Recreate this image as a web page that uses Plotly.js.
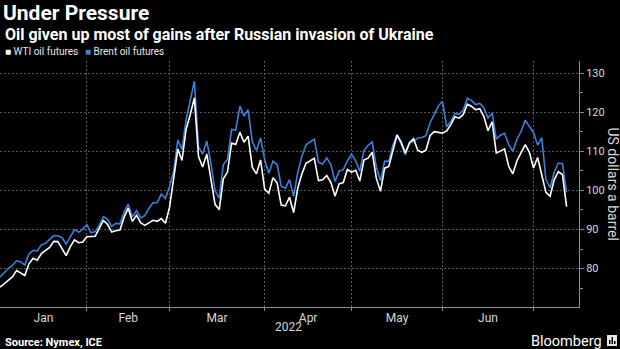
<!DOCTYPE html>
<html><head><meta charset="utf-8">
<script src="https://cdn.plot.ly/plotly-3.0.1.min.js"></script>
<style>html,body{margin:0;padding:0;background:#000;}#chart{width:620px;height:349px;}</style>
</head><body><div id="chart"></div>
<script>
// ---- data (daily settlements, front-month) ----
const wtiDates = ['2021-12-31',
'2022-01-03','2022-01-04','2022-01-05','2022-01-06','2022-01-07','2022-01-10','2022-01-11','2022-01-12','2022-01-13','2022-01-14','2022-01-18','2022-01-19','2022-01-20','2022-01-21','2022-01-24','2022-01-25','2022-01-26','2022-01-27','2022-01-28','2022-01-31',
'2022-02-01','2022-02-02','2022-02-03','2022-02-04','2022-02-07','2022-02-08','2022-02-09','2022-02-10','2022-02-11','2022-02-14','2022-02-15','2022-02-16','2022-02-17','2022-02-18','2022-02-22','2022-02-23','2022-02-24','2022-02-25','2022-02-28',
'2022-03-01','2022-03-02','2022-03-03','2022-03-04','2022-03-07','2022-03-08','2022-03-09','2022-03-10','2022-03-11','2022-03-14','2022-03-15','2022-03-16','2022-03-17','2022-03-18','2022-03-21','2022-03-22','2022-03-23','2022-03-24','2022-03-25','2022-03-28','2022-03-29','2022-03-30','2022-03-31',
'2022-04-01','2022-04-04','2022-04-05','2022-04-06','2022-04-07','2022-04-08','2022-04-11','2022-04-12','2022-04-13','2022-04-14','2022-04-18','2022-04-19','2022-04-20','2022-04-21','2022-04-22','2022-04-25','2022-04-26','2022-04-27','2022-04-28','2022-04-29',
'2022-05-02','2022-05-03','2022-05-04','2022-05-05','2022-05-06','2022-05-09','2022-05-10','2022-05-11','2022-05-12','2022-05-13','2022-05-16','2022-05-17','2022-05-18','2022-05-19','2022-05-20','2022-05-23','2022-05-24','2022-05-25','2022-05-26','2022-05-27','2022-05-31',
'2022-06-01','2022-06-02','2022-06-03','2022-06-06','2022-06-07','2022-06-08','2022-06-09','2022-06-10','2022-06-13','2022-06-14','2022-06-15','2022-06-16','2022-06-17','2022-06-21','2022-06-22','2022-06-23','2022-06-24','2022-06-27','2022-06-28','2022-06-29','2022-06-30',
'2022-07-01','2022-07-05','2022-07-06','2022-07-07','2022-07-08','2022-07-11','2022-07-12'];
const wtiValues = [75.21,
76.08,76.99,77.85,79.46,78.90,78.23,81.22,82.64,82.12,83.82,85.43,86.96,86.90,85.14,83.31,85.60,87.35,86.61,86.82,88.15,
88.20,88.26,90.27,92.31,91.32,89.36,89.66,89.88,93.10,95.46,92.07,93.66,91.76,91.07,92.35,92.10,92.81,91.59,95.72,
103.41,110.60,107.67,115.68,119.40,123.70,108.70,106.02,109.33,103.01,96.44,95.04,102.98,104.70,112.12,111.76,114.93,112.34,113.90,105.96,104.24,107.82,100.28,
99.27,103.28,101.96,96.23,96.03,98.26,94.29,100.60,104.25,106.95,108.21,102.56,102.75,103.79,102.07,98.54,101.70,102.02,105.36,104.69,
105.17,102.41,107.81,108.26,109.77,103.09,99.76,105.71,106.13,110.49,114.20,112.40,109.59,112.21,113.23,110.29,109.77,110.33,114.09,115.07,114.67,
115.26,116.87,118.87,118.50,119.41,122.11,121.51,120.67,120.93,118.93,115.31,117.59,109.56,110.65,106.19,104.27,107.62,109.57,111.76,109.78,105.76,
108.43,99.50,98.53,102.73,104.79,104.09,95.84];

const brentDates = ['2021-12-31',
'2022-01-03','2022-01-04','2022-01-05','2022-01-06','2022-01-07','2022-01-10','2022-01-11','2022-01-12','2022-01-13','2022-01-14','2022-01-17','2022-01-18','2022-01-19','2022-01-20','2022-01-21','2022-01-24','2022-01-25','2022-01-26','2022-01-27','2022-01-28','2022-01-31',
'2022-02-01','2022-02-02','2022-02-03','2022-02-04','2022-02-07','2022-02-08','2022-02-09','2022-02-10','2022-02-11','2022-02-14','2022-02-15','2022-02-16','2022-02-17','2022-02-18','2022-02-21','2022-02-22','2022-02-23','2022-02-24','2022-02-25','2022-02-28',
'2022-03-01','2022-03-02','2022-03-03','2022-03-04','2022-03-07','2022-03-08','2022-03-09','2022-03-10','2022-03-11','2022-03-14','2022-03-15','2022-03-16','2022-03-17','2022-03-18','2022-03-21','2022-03-22','2022-03-23','2022-03-24','2022-03-25','2022-03-28','2022-03-29','2022-03-30','2022-03-31',
'2022-04-01','2022-04-04','2022-04-05','2022-04-06','2022-04-07','2022-04-08','2022-04-11','2022-04-12','2022-04-13','2022-04-14','2022-04-18','2022-04-19','2022-04-20','2022-04-21','2022-04-22','2022-04-25','2022-04-26','2022-04-27','2022-04-28','2022-04-29',
'2022-05-02','2022-05-03','2022-05-04','2022-05-05','2022-05-06','2022-05-09','2022-05-10','2022-05-11','2022-05-12','2022-05-13','2022-05-16','2022-05-17','2022-05-18','2022-05-19','2022-05-20','2022-05-23','2022-05-24','2022-05-25','2022-05-26','2022-05-27','2022-05-30','2022-05-31',
'2022-06-01','2022-06-02','2022-06-03','2022-06-06','2022-06-07','2022-06-08','2022-06-09','2022-06-10','2022-06-13','2022-06-14','2022-06-15','2022-06-16','2022-06-17','2022-06-20','2022-06-21','2022-06-22','2022-06-23','2022-06-24','2022-06-27','2022-06-28','2022-06-29','2022-06-30',
'2022-07-01','2022-07-04','2022-07-05','2022-07-06','2022-07-07','2022-07-08','2022-07-11','2022-07-12'];
const brentValues = [77.78,
78.98,80.00,80.80,81.99,81.75,80.87,83.72,84.67,84.47,86.06,86.48,87.51,88.44,88.38,87.89,86.27,88.20,89.96,89.34,90.03,91.21,
89.16,89.47,91.11,93.27,92.69,90.78,91.55,91.41,94.44,96.48,93.28,94.81,92.97,93.54,95.39,96.84,96.84,99.08,97.93,100.99,
104.97,112.93,110.46,118.11,123.21,127.98,111.14,109.33,112.67,106.90,99.91,98.02,106.64,107.93,115.62,115.48,121.60,119.03,120.65,112.48,110.23,113.45,107.91,
104.39,107.53,106.64,101.07,100.58,102.78,98.48,104.64,108.78,111.70,113.16,107.25,106.80,108.33,106.65,102.32,104.99,105.32,107.59,109.34,
107.58,104.97,110.14,111.55,112.39,105.94,102.46,107.51,107.45,111.55,114.24,111.93,109.11,112.04,112.55,113.42,113.56,114.03,117.40,119.43,121.67,122.84,
116.29,117.61,119.72,119.51,120.57,123.58,123.07,122.01,122.27,121.17,118.51,119.81,113.12,114.13,114.65,111.74,110.05,113.12,115.09,117.98,116.26,114.81,
111.63,113.50,102.77,100.69,104.65,107.02,106.85,99.49];

const seriesNames = ['WTI oil futures', 'Brent oil futures'];
const monthLabels = ['Jan','Feb','Mar','Apr','May','Jun'];
const monthLabelDates = ['2022-01-17 12:00','2022-02-15','2022-03-16 12:00','2022-04-15 12:00','2022-05-17','2022-06-16'];
const monthBoundaries = ['2022-02-01','2022-03-01','2022-04-01','2022-05-02','2022-06-01','2022-07-01'];
const yTickValues = [80,90,100,110,120,130];

// ---- styling ----
const WHITE = '#ffffff', BLUE = '#3c80db', AXIS = '#8c8c8c', GRID = '#5a5a5a', TXT = '#d6d6d6';
const F = 'Roboto, "Open Sans", sans-serif';
const W = 620, H = 349, M = {l:0, r:41, t:61, b:42};
const PW = W - M.l - M.r, PH = H - M.t - M.b;
const px = x => (x - M.l) / PW;          // pixel -> paper x
const py = y => (H - M.b - y) / PH;      // pixel -> paper y
const eod = d => d + ' 23:59:59';         // settlement plotted at end of trading day

const traces = [
  {x: brentDates.map(eod), y: brentValues, name: seriesNames[1], mode:'lines',
   line:{color: BLUE, width:1.6}, hoverinfo:'skip'},
  {x: wtiDates.map(eod), y: wtiValues, name: seriesNames[0], mode:'lines',
   line:{color: WHITE, width:1.6}, hoverinfo:'skip'}
];

const layout = {
  width: W, height: H,
  paper_bgcolor:'#000', plot_bgcolor:'#000',
  margin:{l:M.l, r:M.r, t:M.t, b:M.b, pad:0},
  font:{family:F, color:TXT},
  showlegend:false,
  title:{text:'<b>Under Pressure</b>', x:3/W, xref:'container', xanchor:'left',
         y:1-13/H, yref:'container', yanchor:'middle',
         font:{size:21, family:F, color:'#fff'}},
  xaxis:{type:'date', range:['2021-12-31 23:59','2022-07-18'],
         rangebreaks:[{bounds:['sat','mon']}],
         tickmode:'array', tickvals:monthLabelDates, ticktext:monthLabels,
         ticks:'', showgrid:false, zeroline:false,
         showline:true, linecolor:AXIS, linewidth:1,
         tickfont:{size:12, color:TXT, family:F},
         minor:{tickmode:'array', tickvals:monthBoundaries, showgrid:true,
                gridcolor:GRID, griddash:'2px,2px', gridwidth:1,
                ticks:'outside', ticklen:3, tickcolor:AXIS},
         fixedrange:true},
  yaxis:{side:'right', range:[70.15,133.15],
         tickmode:'array', tickvals:yTickValues,
         showgrid:true, gridcolor:GRID, griddash:'2px,2px', gridwidth:1,
         ticks:'outside', ticklen:4, tickcolor:AXIS,
         showline:true, linecolor:AXIS, linewidth:1, zeroline:false,
         tickfont:{size:11, color:TXT, family:F},
         minor:{tick0:70, dtick:5, ticks:'outside', ticklen:3, tickcolor:AXIS, showgrid:false},
         fixedrange:true},
  annotations:[
    {text:'<b>Oil given up most of gains after Russian invasion of Ukraine</b>', xref:'paper', yref:'paper',
     x:px(3), y:py(34.5), xanchor:'left', yanchor:'middle', showarrow:false,
     font:{size:16, family:F, color:'#fff'}},
    {text:'<span style="color:'+WHITE+'">■</span> '+seriesNames[0], xref:'paper', yref:'paper',
     x:px(3), y:py(52), xanchor:'left', yanchor:'middle', showarrow:false,
     font:{size:10, family:F, color:'#e8e8e8'}},
    {text:'<span style="color:'+BLUE+'">■</span> '+seriesNames[1], xref:'paper', yref:'paper',
     x:px(83), y:py(52), xanchor:'left', yanchor:'middle', showarrow:false,
     font:{size:10, family:F, color:'#e8e8e8'}},
    {text:'US dollars a barrel', textangle:90, xref:'paper', yref:'paper',
     x:px(612.5), y:0.5, xanchor:'center', yanchor:'middle', showarrow:false,
     font:{size:14, family:F, color:TXT}},
    {text:'2022', xref:'paper', yref:'paper', x:px(288), y:py(327), xanchor:'center', yanchor:'middle',
     showarrow:false, font:{size:12, family:F, color:TXT}},
    {text:'<b>Source: Nymex, ICE</b>', xref:'paper', yref:'paper', x:px(3), y:py(342),
     xanchor:'left', yanchor:'middle', showarrow:false, font:{size:11, family:F, color:'#fff'}},
    {text:'Bloomberg', xref:'paper', yref:'paper', x:px(604), y:py(341),
     xanchor:'right', yanchor:'middle', showarrow:false, font:{size:14.5, family:F, color:'#fff'}}
  ],
  shapes:[
    {type:'rect', xref:'paper', yref:'paper', x0:px(607), x1:px(617), y0:py(346), y1:py(335),
     fillcolor:'#e6e6e6', line:{width:0}},
    {type:'rect', xref:'paper', yref:'paper', x0:px(609), x1:px(610.5), y0:py(344), y1:py(340),
     fillcolor:'#000', line:{width:0}},
    {type:'rect', xref:'paper', yref:'paper', x0:px(611.5), x1:px(613), y0:py(344), y1:py(337),
     fillcolor:'#000', line:{width:0}},
    {type:'rect', xref:'paper', yref:'paper', x0:px(614), x1:px(615.5), y0:py(344), y1:py(341),
     fillcolor:'#000', line:{width:0}}
  ]
};

Plotly.newPlot('chart', traces, layout, {displayModeBar:false, staticPlot:true});
</script>
</body></html>
